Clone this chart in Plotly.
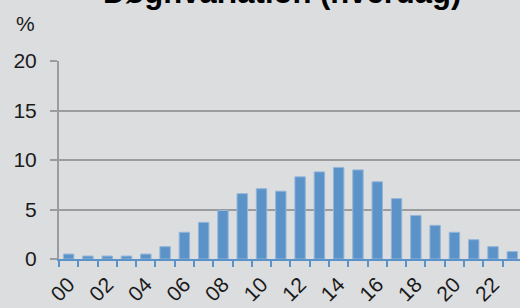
import plotly.graph_objects as go

hours = list(range(24))
hour_labels = ["00", "02", "04", "06", "08", "10", "12", "14", "16", "18", "20", "22"]
values = [0.5, 0.3, 0.3, 0.3, 0.5, 1.25, 2.7, 3.7, 4.9, 6.6, 7.1, 6.85,
          8.3, 8.8, 9.25, 9.0, 7.8, 6.1, 4.4, 3.4, 2.7, 1.95, 1.25, 0.75]
y_ticks = [0, 5, 10, 15, 20]

BG = "#dcdddf"
BAR = "#5b93c8"
GRID = "#9b9c9e"
FONT = "Liberation Sans, Arial, sans-serif"

fig = go.Figure(go.Bar(
    x=hours, y=values, width=0.54,
    marker=dict(color=BAR, line=dict(color="#93b6da", width=1)),
))

W, H = 520, 308
L, R, T, B = 59, 0, 61, 49
PH = H - T - B

fig.update_layout(
    width=W, height=H,
    margin=dict(l=L, r=R, t=T, b=B, autoexpand=False),
    paper_bgcolor=BG, plot_bgcolor=BG,
    showlegend=False,
    font=dict(family=FONT, size=21, color="#1a1a1a"),
    xaxis=dict(
        automargin=False,
        range=[-0.5, 23.4],
        tickmode="array",
        tickvals=[int(s) for s in hour_labels],
        ticktext=hour_labels,
        tickangle=-45,
        ticklabelstandoff=3,
        ticks="", showgrid=False, zeroline=False,
        showline=True, linecolor=BAR, linewidth=2,
        minor=dict(tickmode="linear", tick0=-0.5, dtick=1, ticks="outside",
                   ticklen=6, tickwidth=2, tickcolor=BAR, showgrid=False),
        tickfont=dict(size=21, color="#1a1a1a"),
    ),
    yaxis=dict(
        automargin=False,
        range=[0, 20], tickvals=y_ticks,
        ticks="outside", ticklen=7, tickwidth=2, tickcolor=GRID,
        ticklabelstandoff=9,
        showgrid=True, gridcolor=GRID, gridwidth=2,
        zeroline=False,
        showline=True, linecolor=GRID, linewidth=2,
        tickfont=dict(size=21, color="#1a1a1a"),
    ),
    annotations=[
        dict(text="%", xref="paper", yref="paper", x=-45 / (W - L), y=1 + 24 / PH,
             xanchor="left", yanchor="bottom", showarrow=False,
             font=dict(size=21, family=FONT, color="#1a1a1a")),
        dict(text="<b>Døgnvariation (hverdag)</b>", xref="paper", yref="paper",
             x=(282 - L) / (W - L), y=1.0 + 49 / PH, xanchor="center", yanchor="bottom",
             showarrow=False,
             font=dict(size=31, family=FONT, color="#000000")),
    ],
)

fig.write_html("out.html",
               config={"displayModeBar": False},
               post_script="document.body.style.margin='0';document.body.style.overflow='hidden';")
